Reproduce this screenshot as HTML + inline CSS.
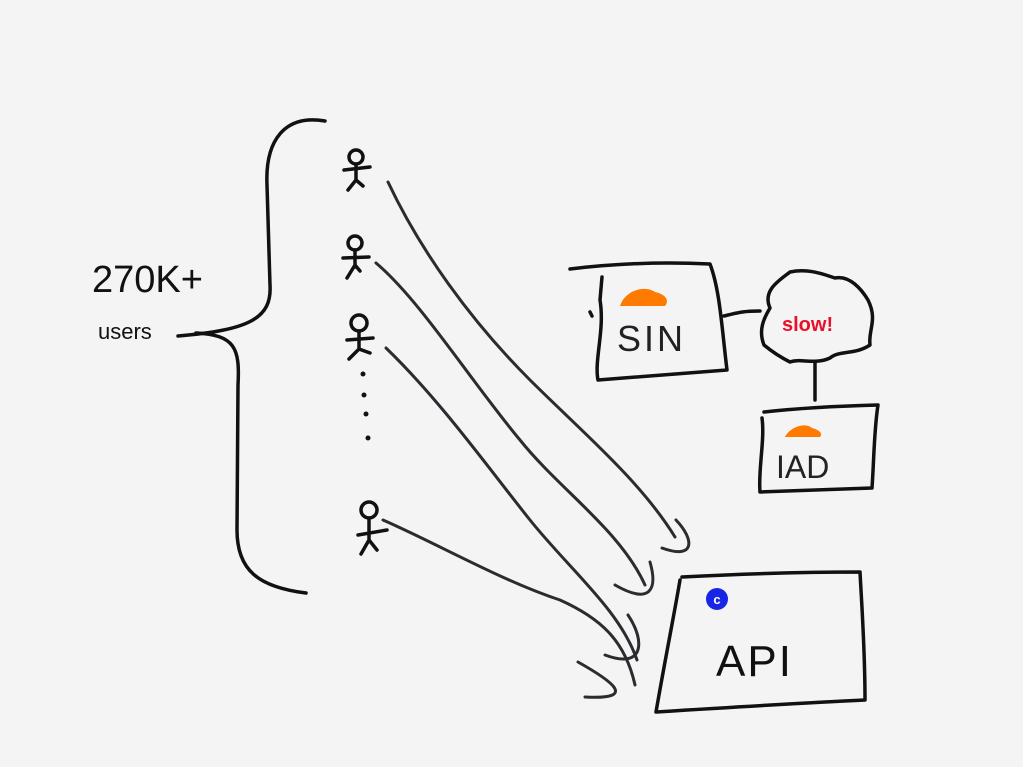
<!DOCTYPE html>
<html><head><meta charset="utf-8"><style>
html,body{margin:0;padding:0;background:#f4f4f4;}
svg{display:block;}
text{font-family:"Liberation Sans",sans-serif;}
</style></head><body>
<svg width="1023" height="767" viewBox="0 0 1023 767" xmlns="http://www.w3.org/2000/svg">
<rect width="1023" height="767" fill="#f4f4f4"/>
<g fill="none" stroke="#111" stroke-width="3.5" stroke-linecap="round" stroke-linejoin="round">
<path d="M325,121 C285,114 265,140 267,185 L270,285 C272,318 250,330 178,336"/>
<path d="M196,333 C235,335 240,348 238,385 L237,530 C237,570 258,587 306,593"/>
<g transform="translate(356,160)"><circle cx="0" cy="-3" r="7"/><path d="M0,4 V20 M-12,10 L14,7 M0,20 L-8,30 M0,20 L7,26"/></g>
<g transform="translate(355,245)"><circle cx="0" cy="-2" r="7"/><path d="M0,5 V22 M-12,13 L14,12 M0,20 L-8,33 M0,20 L5,26"/></g>
<g transform="translate(359,323)"><circle cx="0" cy="0" r="8"/><path d="M0,8 V26 M-12,17 L14,15 M0,26 L-10,36 M0,26 L11,30"/></g>
<g transform="translate(369,510)"><circle cx="0" cy="0" r="8"/><path d="M0,8 V30 M-11,25 L18,20 M0,30 L-8,44 M0,30 L8,40"/></g>
<path d="M570,269 C620,263 670,262 710,264 C720,290 722,330 727,370 L598,380 C594,360 605,330 600,300 L602,277"/>
<path d="M590,312 L592,316"/>
<path d="M724,316 C740,312 745,311 760,311"/>
<path d="M770,308 C762,290 780,280 790,272 C810,268 825,275 835,278 C850,275 862,290 868,300 C878,320 868,330 870,345 C855,355 840,350 830,358 C815,365 800,358 790,362 C778,356 770,350 764,345 C758,330 764,318 770,308 Z"/>
<path d="M815,362 L815,400"/>
<path d="M764,412 C800,408 840,406 878,405 C874,430 874,460 872,488 L760,492 C758,470 765,440 762,418"/>
<path d="M682,577 C740,574 800,572 860,572 C862,610 865,650 865,700 C800,703 720,708 656,712 C665,660 675,610 680,580"/>
</g>
<g fill="none" stroke="#2b2b30" stroke-width="3" stroke-linecap="round">
<path d="M388,182 C420,250 470,320 530,380 C580,430 640,480 675,537"/>
<path d="M676,520 C695,540 695,560 662,548"/>
<path d="M376,263 C420,300 470,380 520,440 C560,490 620,530 645,585"/>
<path d="M650,562 C658,590 650,605 615,585"/>
<path d="M386,348 C440,400 490,470 530,520 C570,570 620,610 637,660"/>
<path d="M628,615 C645,640 645,670 605,655"/>
<path d="M383,520 C440,545 500,580 560,600 C600,618 625,640 635,685"/>
<path d="M578,662 C610,680 640,700 585,697"/>
</g>
<path d="M620,306 C625,290 645,285 655,292 C665,294 670,300 665,306 Z" fill="#ff7a00"/>
<path d="M785,437 C790,427 805,422 812,428 C820,430 823,434 820,437 Z" fill="#ff7a00"/>
<circle cx="717" cy="599" r="11" fill="#1726e6"/>
<text x="717" y="604" font-size="13" font-weight="bold" fill="#fff" text-anchor="middle">c</text>
<text x="92" y="292" font-size="38" fill="#111">270K+</text>
<text x="98" y="339" font-size="22" fill="#111">users</text>
<text x="617" y="351" font-size="36" fill="#222" letter-spacing="3">SIN</text>
<text x="782" y="331" font-size="20" fill="#e8102a" font-weight="bold">slow!</text>
<text x="776" y="478" font-size="32" fill="#222">IAD</text>
<text x="716" y="676" font-size="44" fill="#111" letter-spacing="2">API</text>
<g fill="#111"><circle cx="363" cy="374" r="2.5"/><circle cx="364" cy="395" r="2.5"/><circle cx="366" cy="414" r="2.5"/><circle cx="368" cy="438" r="2.5"/></g>
</svg>
</body></html>
